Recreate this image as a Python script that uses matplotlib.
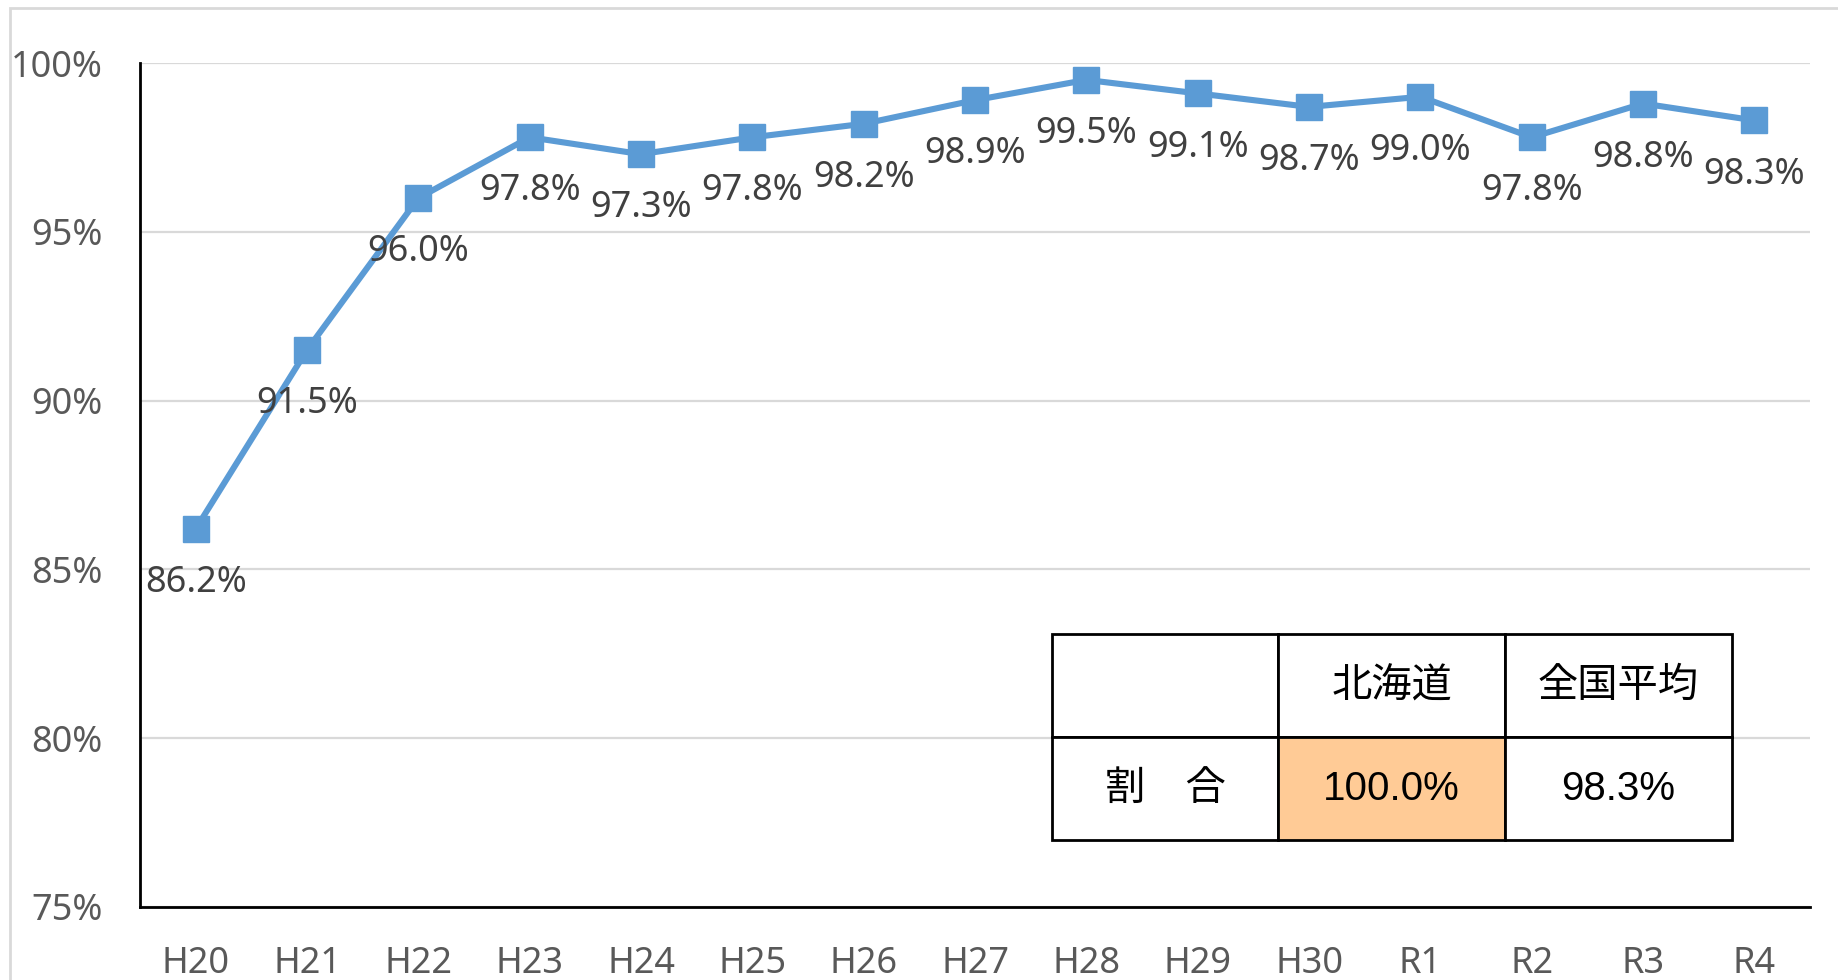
import matplotlib.pyplot as plt
from matplotlib.patches import Rectangle

# -----------------------------
# Data
# -----------------------------
years = ["H20", "H21", "H22", "H23", "H24", "H25", "H26", "H27",
         "H28", "H29", "H30", "R1", "R2", "R3", "R4"]
rates = [86.2, 91.5, 96.0, 97.8, 97.3, 97.8, 98.2, 98.9,
         99.5, 99.1, 98.7, 99.0, 97.8, 98.8, 98.3]

yticks = [75, 80, 85, 90, 95, 100]

table_cols = ["", "北海道", "全国平均"]
table_rows = [["割　合", "100.0%", "98.3%"]]

jp = ["Noto Sans CJK JP", "DejaVu Sans"]
plt.rcParams['font.family'] = ["Noto Sans", "DejaVu Sans"]

# -----------------------------
# Figure
# -----------------------------
fig = plt.figure(figsize=(18.38, 9.8), dpi=100)
ax = fig.add_axes([0.0762, 0.0745, 0.9086, 0.8612])

# outer light frame
fig.patches.append(Rectangle((10/1838, -0.05), 1.0, 1 - 8/980 + 0.05,
                             transform=fig.transFigure, fill=False,
                             edgecolor="#D9D9D9", linewidth=2))

x = list(range(len(years)))
ax.plot(x, rates, color="#5B9BD5", linewidth=4.4, marker="s",
        markersize=19, zorder=3)

for xi, v in zip(x, rates):
    ax.annotate(f"{v:.1f}%", (xi, v), xytext=(0, -39),
                textcoords="offset points", ha="center", va="center",
                fontsize=26, color="#404040", zorder=4)

ax.set_xlim(-0.5, len(years) - 0.5)
ax.set_ylim(75, 100)
ax.set_xticks(x)
ax.set_xticklabels(years)
ax.set_yticks(yticks)
ax.set_yticklabels([f"{t}%" for t in yticks])
ax.tick_params(axis="both", length=0, labelsize=26, labelcolor="#595959")
ax.tick_params(axis="y", pad=27)
ax.tick_params(axis="x", pad=28)

ax.grid(axis="y", color="#D9D9D9", linewidth=1.6)
ax.set_axisbelow(True)
for s in ["top", "right"]:
    ax.spines[s].set_visible(False)
for s in ["left", "bottom"]:
    ax.spines[s].set_color("black")
    ax.spines[s].set_linewidth(2)

# -----------------------------
# Inset table
# -----------------------------
tbl = ax.table(cellText=table_rows, colLabels=table_cols,
               cellLoc="center", bbox=[0.546, 0.079, 0.407, 0.244],
               zorder=5)
tbl.auto_set_font_size(False)
for (r, c), cell in tbl.get_celld().items():
    cell.set_edgecolor("black")
    cell.set_linewidth(2)
    cell.set_facecolor("white")
    txt = cell.get_text()
    txt.set_fontsize(29)
    if r == 1 and c > 0:
        txt.set_fontfamily(["Liberation Sans", "DejaVu Sans"])
    else:
        txt.set_fontfamily(jp)
tbl[1, 1].set_facecolor("#FFCB96")

fig.savefig("out.png", dpi=100)
